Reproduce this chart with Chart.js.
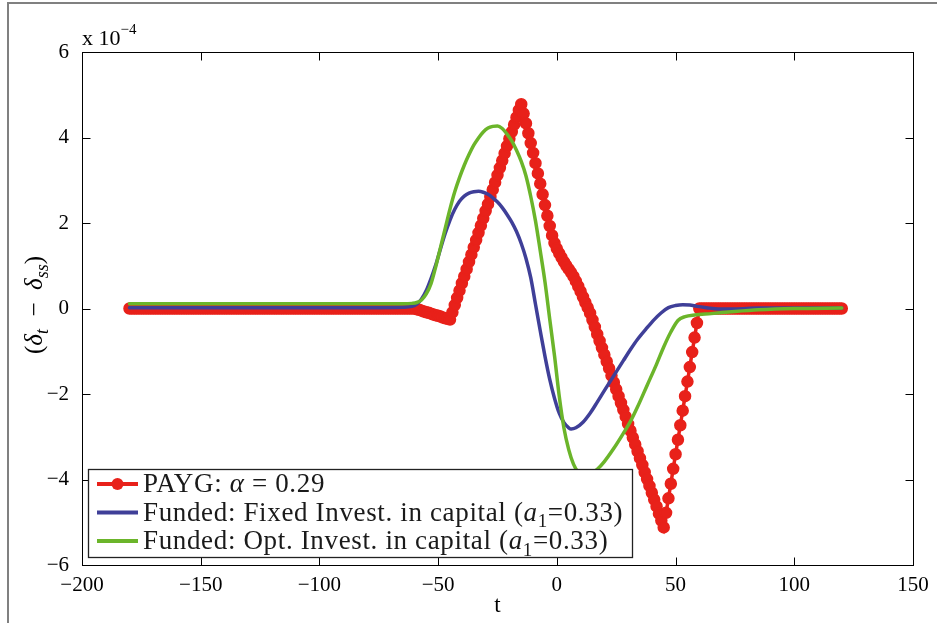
<!DOCTYPE html>
<html>
<head>
<meta charset="utf-8">
<title>Pension transition: delta deviation</title>
<script src="https://cdn.jsdelivr.net/npm/chart.js@4.4.1/dist/chart.umd.min.js"></script>
<style>
  html, body { margin: 0; padding: 0; background: #fff; }
  #wrap { width: 937px; height: 623px; }
</style>
</head>
<body>
<div id="wrap">
  <canvas id="deltaChart" width="937" height="623"></canvas>
</div>
<script>
// All y values are in units of 1e-4 (axis shows "x 10^-4")

// PAYG: one marker per period, t = -180 .. 120
const paygStart = -180;
const paygValues = [
  // t = -180 .. -61
  0, 0, 0, 0, 0, 0, 0, 0, 0, 0, 0, 0, 0, 0, 0, 0, 0, 0, 0, 0,
  0, 0, 0, 0, 0, 0, 0, 0, 0, 0, 0, 0, 0, 0, 0, 0, 0, 0, 0, 0,
  0, 0, 0, 0, 0, 0, 0, 0, 0, 0, 0, 0, 0, 0, 0, 0, 0, 0, 0, 0,
  0, 0, 0, 0, 0, 0, 0, 0, 0, 0, 0, 0, 0, 0, 0, 0, 0, 0, 0, 0,
  0, 0, 0, 0, 0, 0, 0, 0, 0, 0, 0, 0, 0, 0, 0, 0, 0, 0, 0, 0,
  0, 0, 0, 0, 0, 0, 0, 0, 0, 0, 0, 0, 0, 0, 0, 0, 0, 0, 0, 0,
  // t = -60 .. -45
  0, -0.02, -0.03, -0.05, -0.07, -0.09, -0.10, -0.12, -0.14, -0.16, -0.17, -0.19, -0.21, -0.23, -0.24, -0.26,
  // t = -44 .. -15
  -0.09, 0.08, 0.25, 0.42, 0.59, 0.75, 0.92, 1.09, 1.26, 1.43,
  1.60, 1.77, 1.94, 2.11, 2.28, 2.44, 2.61, 2.78, 2.95, 3.12,
  3.29, 3.46, 3.63, 3.80, 3.97, 4.13, 4.30, 4.47, 4.64, 4.78,
  // t = -14 .. 0
  4.56, 4.33, 4.10, 3.87, 3.64, 3.40, 3.16, 2.92, 2.67, 2.42, 2.17, 1.93, 1.71, 1.53, 1.40,
  // t = 1 .. 14
  1.29, 1.19, 1.09, 1.00, 0.92, 0.84, 0.75, 0.64, 0.52, 0.40, 0.27, 0.14, 0.02, -0.11,
  // t = 15 .. 45
  -0.27, -0.43, -0.60, -0.76, -0.92, -1.08, -1.24, -1.40, -1.57, -1.73,
  -1.89, -2.05, -2.21, -2.37, -2.53, -2.70, -2.86, -3.02, -3.18, -3.34,
  -3.50, -3.66, -3.83, -3.99, -4.15, -4.31, -4.47, -4.63, -4.80, -4.96, -5.12,
  // t = 46 .. 60
  -4.78, -4.44, -4.10, -3.75, -3.41, -3.07, -2.73, -2.39, -2.05, -1.71, -1.37, -1.02, -0.68, -0.34, 0,
  // t = 61 .. 120
  0, 0, 0, 0, 0, 0, 0, 0, 0, 0, 0, 0, 0, 0, 0, 0, 0, 0, 0, 0,
  0, 0, 0, 0, 0, 0, 0, 0, 0, 0, 0, 0, 0, 0, 0, 0, 0, 0, 0, 0,
  0, 0, 0, 0, 0, 0, 0, 0, 0, 0, 0, 0, 0, 0, 0, 0, 0, 0, 0, 0
];

// Funded, fixed investment in capital
const fixedT = [-180, -120, -80, -65, -61, -59, -57, -55, -53, -51, -49, -47, -45, -43, -41,
  -39, -37, -35, -33, -31, -29, -27, -25, -23, -21, -19, -17, -15, -13, -11,
  -9, -7, -5, -3, -1, 1, 3, 5, 6, 8, 11, 14, 17, 20, 24,
  28, 31, 34, 38, 41, 44, 47, 50, 53, 56, 59, 63, 68, 75, 85, 100, 120];
const fixedValues = [0.02, 0.02, 0.02, 0.03, 0.05, 0.10, 0.22, 0.42, 0.70, 1.02, 1.40, 1.76, 2.07, 2.32, 2.51,
  2.63, 2.70, 2.73, 2.74, 2.72, 2.67, 2.59, 2.49, 2.36, 2.20, 2.02, 1.80, 1.52, 1.17, 0.72,
  0.10, -0.52, -1.12, -1.66, -2.10, -2.45, -2.67, -2.79, -2.82, -2.79, -2.66, -2.45, -2.19, -1.92, -1.57,
  -1.22, -0.96, -0.72, -0.45, -0.26, -0.10, 0.02, 0.07, 0.09, 0.08, 0.05, 0.02, -0.01, -0.01, 0.01, 0.01, 0.01];

// Funded, optimal investment in capital
const optT = [-180, -120, -80, -65, -61, -59, -57, -55, -53, -51, -49, -47, -45, -43, -41,
  -39, -37, -35, -33, -31, -29, -27, -25, -23, -21, -19, -17, -15, -13, -11,
  -9, -7, -5, -3, -1, 1, 3, 5, 7, 9, 11, 12, 14, 17, 20,
  24, 28, 31, 34, 38, 42, 45, 48, 51, 54, 58, 65, 75, 85, 100, 120];
const optValues = [0.11, 0.11, 0.11, 0.11, 0.12, 0.14, 0.20, 0.34, 0.58, 0.98, 1.43, 1.88, 2.33, 2.73, 3.06,
  3.35, 3.60, 3.82, 3.99, 4.13, 4.22, 4.26, 4.27, 4.21, 4.08, 3.92, 3.70, 3.44, 3.10, 2.62,
  2.05, 1.35, 0.62, -0.25, -1.10, -2.05, -2.80, -3.30, -3.64, -3.83, -3.90, -3.91, -3.87, -3.76, -3.58,
  -3.27, -2.92, -2.64, -2.30, -1.80, -1.30, -0.90, -0.55, -0.28, -0.19, -0.15, -0.12, -0.07, -0.03, 0.00, 0.01];

const xTicks = [-200, -150, -100, -50, 0, 50, 100, 150];
const yTicks = [-6, -4, -2, 0, 2, 4, 6];

// legend rows: [text, style]  r = roman, i = italic, rs = roman subscript
const legendRows = [
  [['PAYG: ', 'r'], ['\u03b1', 'i'], [' = 0.29', 'r']],
  [['Funded: Fixed Invest. in capital (', 'r'], ['a', 'i'], ['1', 'rs'], ['=0.33)', 'r']],
  [['Funded: Opt. Invest. in capital (', 'r'], ['a', 'i'], ['1', 'rs'], ['=0.33)', 'r']]
];
const yTitle = [['(', 'r'], ['\u03b4', 'i'], ['t', 'is'], ['  \u2212  ', 'r'], ['\u03b4', 'i'], ['ss', 'is'], [')', 'r']];
const multiplier = [['x 10', 'r'], ['\u22124', 'rp']];

const RED = '#e8211a';
const BLUE = '#3f3f98';
const GREEN = '#6bb52a';
const SERIF = '"Liberation Serif", "Times New Roman", serif';

function minus(v) {
  return v < 0 ? '\u2212' + Math.abs(v) : String(v);
}

function partFont(style, size) {
  const small = style === 'rs' || style === 'is' || style === 'rp';
  const italic = style === 'i' || style === 'is';
  return (italic ? 'italic ' : '') + (small ? Math.round(size * 0.7) : size) + 'px ' + SERIF;
}

// draws text made of roman / italic / sub / sup pieces, y is the baseline
function drawRich(ctx, parts, x, y, size, align, spacing) {
  ctx.letterSpacing = (spacing || 0) + 'px';
  const widths = parts.map(p => {
    ctx.font = partFont(p[1], size);
    return ctx.measureText(p[0]).width;
  });
  const total = widths.reduce((s, w) => s + w, 0);
  let cx = align === 'center' ? x - total / 2 : x;
  ctx.textAlign = 'left';
  ctx.textBaseline = 'alphabetic';
  parts.forEach((p, i) => {
    ctx.font = partFont(p[1], size);
    let dy = 0;
    if (p[1] === 'rs' || p[1] === 'is') dy = size * 0.25;
    if (p[1] === 'rp') dy = -size * 0.5;
    ctx.fillText(p[0], cx, y + dy);
    cx += widths[i];
  });
  ctx.letterSpacing = '0px';
}

// MATLAB style: boxed axes, inward ticks, legend box, extra labels
const matlabLook = {
  id: 'matlabLook',
  beforeDraw(chart) {
    const ctx = chart.ctx;
    ctx.save();
    ctx.fillStyle = '#fff';
    ctx.fillRect(0, 0, chart.width, chart.height);
    // page frame seen on the top and left edge
    ctx.fillStyle = '#808080';
    ctx.fillRect(7, 2, chart.width - 7, 2);
    ctx.fillRect(7, 2, 2, chart.height - 2);
    ctx.restore();
  },
  afterDraw(chart) {
    const { ctx, chartArea: a, scales } = chart;
    const L = Math.round(a.left) + 0.5, R = Math.round(a.right) + 0.5;
    const T = Math.round(a.top) + 0.5, B = Math.round(a.bottom) + 0.5;
    ctx.save();
    ctx.strokeStyle = '#000';
    ctx.lineWidth = 1;
    ctx.strokeRect(L, T, R - L, B - T);

    const tl = 8;
    ctx.beginPath();
    xTicks.forEach(v => {
      const px = Math.round(scales.x.getPixelForValue(v)) + 0.5;
      ctx.moveTo(px, B); ctx.lineTo(px, B - tl);
      ctx.moveTo(px, T); ctx.lineTo(px, T + tl);
    });
    yTicks.forEach(v => {
      const py = Math.round(scales.y.getPixelForValue(v)) + 0.5;
      ctx.moveTo(L, py); ctx.lineTo(L + tl, py);
      ctx.moveTo(R, py); ctx.lineTo(R - tl, py);
    });
    ctx.stroke();

    ctx.fillStyle = '#000';
    drawRich(ctx, multiplier, a.left, 45, 22, 'left');

    // x label
    ctx.font = '23px ' + SERIF;
    ctx.textAlign = 'center';
    ctx.textBaseline = 'alphabetic';
    ctx.fillText('t', scales.x.getPixelForValue(-25), 612);

    // y label, rotated
    ctx.save();
    ctx.translate(35, 305);
    ctx.rotate(-Math.PI / 2);
    drawRich(ctx, yTitle, 0, 7, 25, 'center');
    ctx.restore();

    // legend
    const box = { x: 88.5, y: 469.5, w: 544, h: 88 };
    ctx.fillStyle = '#fff';
    ctx.fillRect(box.x, box.y, box.w, box.h);
    ctx.strokeStyle = '#222';
    ctx.lineWidth = 1.3;
    ctx.strokeRect(box.x, box.y, box.w, box.h);
    const colors = [RED, BLUE, GREEN];
    legendRows.forEach((row, i) => {
      const cy = 484 + i * 28.5;
      ctx.strokeStyle = colors[i];
      ctx.lineWidth = 4;
      ctx.beginPath();
      ctx.moveTo(97, cy);
      ctx.lineTo(138, cy);
      ctx.stroke();
      if (i === 0) {
        ctx.fillStyle = RED;
        ctx.beginPath();
        ctx.arc(117.5, cy, 6, 0, Math.PI * 2);
        ctx.fill();
      }
      ctx.fillStyle = '#1a1a1a';
      drawRich(ctx, row, 143, cy + 8, 27, 'left', 0.65);
    });
    ctx.restore();
  }
};

const tickFont = { family: SERIF, size: 21 };

new Chart(document.getElementById('deltaChart'), {
  type: 'line',
  data: {
    datasets: [
      {
        label: 'PAYG: \u03b1 = 0.29',
        data: paygValues.map((v, i) => ({ x: paygStart + i, y: v })),
        borderColor: RED,
        backgroundColor: RED,
        borderWidth: 3.5,
        pointRadius: 5.5,
        pointBorderWidth: 1.5,
        pointBackgroundColor: RED,
        pointBorderColor: RED,
        order: 3
      },
      {
        label: 'Funded: Fixed Invest. in capital (a1=0.33)',
        data: fixedT.map((t, i) => ({ x: t, y: fixedValues[i] })),
        borderColor: BLUE,
        borderWidth: 3.5,
        pointRadius: 0,
        cubicInterpolationMode: 'monotone',
        borderCapStyle: 'round',
        order: 2
      },
      {
        label: 'Funded: Opt. Invest. in capital (a1=0.33)',
        data: optT.map((t, i) => ({ x: t, y: optValues[i] })),
        borderColor: GREEN,
        borderWidth: 3.5,
        pointRadius: 0,
        cubicInterpolationMode: 'monotone',
        borderCapStyle: 'round',
        order: 1
      }
    ]
  },
  options: {
    responsive: false,
    animation: false,
    layout: { padding: { top: 52, right: 24, left: 0, bottom: 0 } },
    plugins: {
      legend: { display: false },
      tooltip: { enabled: false }
    },
    scales: {
      x: {
        type: 'linear',
        min: -200,
        max: 150,
        afterBuildTicks: s => { s.ticks = xTicks.map(v => ({ value: v })); },
        afterFit: s => { s.height = 58; },
        grid: { display: false },
        border: { display: false },
        ticks: { font: tickFont, color: '#000', padding: 0, maxRotation: 0, autoSkip: false, callback: minus }
      },
      y: {
        min: -6,
        max: 6,
        afterBuildTicks: s => { s.ticks = yTicks.map(v => ({ value: v })); },
        afterFit: s => { s.width = 82; },
        grid: { display: false },
        border: { display: false },
        ticks: { font: tickFont, color: '#000', padding: 5, autoSkip: false, callback: minus }
      }
    }
  },
  plugins: [matlabLook]
});
</script>
</body>
</html>
